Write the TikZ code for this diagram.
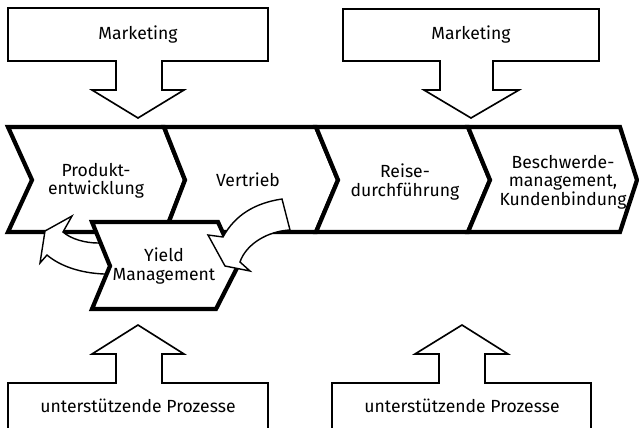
\documentclass[tikz,border=0pt]{standalone}
\usepackage{fontspec}
\setmainfont{Fira Sans}
\begin{document}
\begin{tikzpicture}[x=0.3mm,y=-0.3mm,
  lbl/.style={font=\fontsize{15}{15.8}\selectfont, align=center, inner sep=0pt},
  blockshape/.style={draw=black, fill=white, line width=1.4pt, line join=miter},
  bandshape/.style={draw=black, fill=white, line width=3.6pt, line join=miter},
  curvedarrow/.style={draw=black, fill=white, line width=1.2pt, line join=miter}
]
\useasboundingbox (0,0) rectangle (639,427);
\clip (0,0) rectangle (639,427);

% Marketing block arrows
\path[blockshape] (8,8) -- (268,8) -- (268,61) -- (162,61) -- (162,90) -- (184,90) -- (138,118)
  -- (92,90) -- (116,90) -- (116,61) -- (8,61) -- cycle;
\path[blockshape] (343,9) -- (599,9) -- (599,61) -- (493,61) -- (493,90) -- (519,90) -- (471,118)
  -- (424,90) -- (440,90) -- (440,61) -- (343,61) -- cycle;
\node[lbl] (mk1) at (138,35) {Marketing};
\node[lbl] (mk2) at (471,35) {Marketing};

% support processes block arrows
\path[blockshape] (8,440) -- (8,383) -- (116,383) -- (116,354) -- (92,354) -- (138,325)
  -- (184,354) -- (162,354) -- (162,383) -- (268,383) -- (268,440);
\path[blockshape] (332,440) -- (332,383) -- (439,383) -- (439,354) -- (415,354) -- (462,325)
  -- (508,354) -- (485,354) -- (485,383) -- (591,383) -- (591,440);
\node[lbl] (up1) at (138,406) {unterstützende Prozesse};
\node[lbl] (up2) at (462,406) {unterstützende Prozesse};

% value chain band
\path[bandshape] (8,127) -- (164,127) -- (185,180) -- (165,232) -- (8,232) -- (32,180) -- cycle;
\path[bandshape] (164,127) -- (316,127) -- (338,180) -- (316,232) -- (165,232) -- (185,180) -- cycle;
\path[bandshape] (316,127) -- (468,127) -- (490,180) -- (468,232) -- (316,232) -- (338,180) -- cycle;
\path[bandshape] (468,127) -- (620,127) -- (637,180) -- (620,232) -- (468,232) -- (490,180) -- cycle;
\node[lbl] (c1) at (96,181) {Produkt-\\entwicklung};
\node[lbl] (c2) at (248,180) {Vertrieb};
\node[lbl] (c3) at (405,182) {Reise-\\durchführung};
\node[lbl] (c4) at (563,182) {Beschwerde-\\management,\\Kundenbindung};

% left curved arrow (behind yield box)
\path[curvedarrow] (106,244) -- (98,243) .. controls (85,243) and (71,239) .. (63,232)
  -- (72,216) -- (45,231) -- (40,263) -- (47,255)
  .. controls (60,266) and (80,273) .. (104,274) -- (112,274) -- cycle;

% yield management
\path[bandshape] (92,222) -- (218,222) -- (238,266) -- (216,309) -- (92,309) -- (110,266) -- cycle;
\node[lbl] (ym) at (164,266) {Yield\\Management};

% right curved arrow (in front)
\path[curvedarrow] (282,199) -- (290,230) .. controls (268,231) and (246,244) .. (240,262)
  -- (250,271) -- (225,266) -- (208,235) -- (223,237)
  .. controls (235,215) and (255,203) .. (282,199) -- cycle;
\end{tikzpicture}
\end{document}
